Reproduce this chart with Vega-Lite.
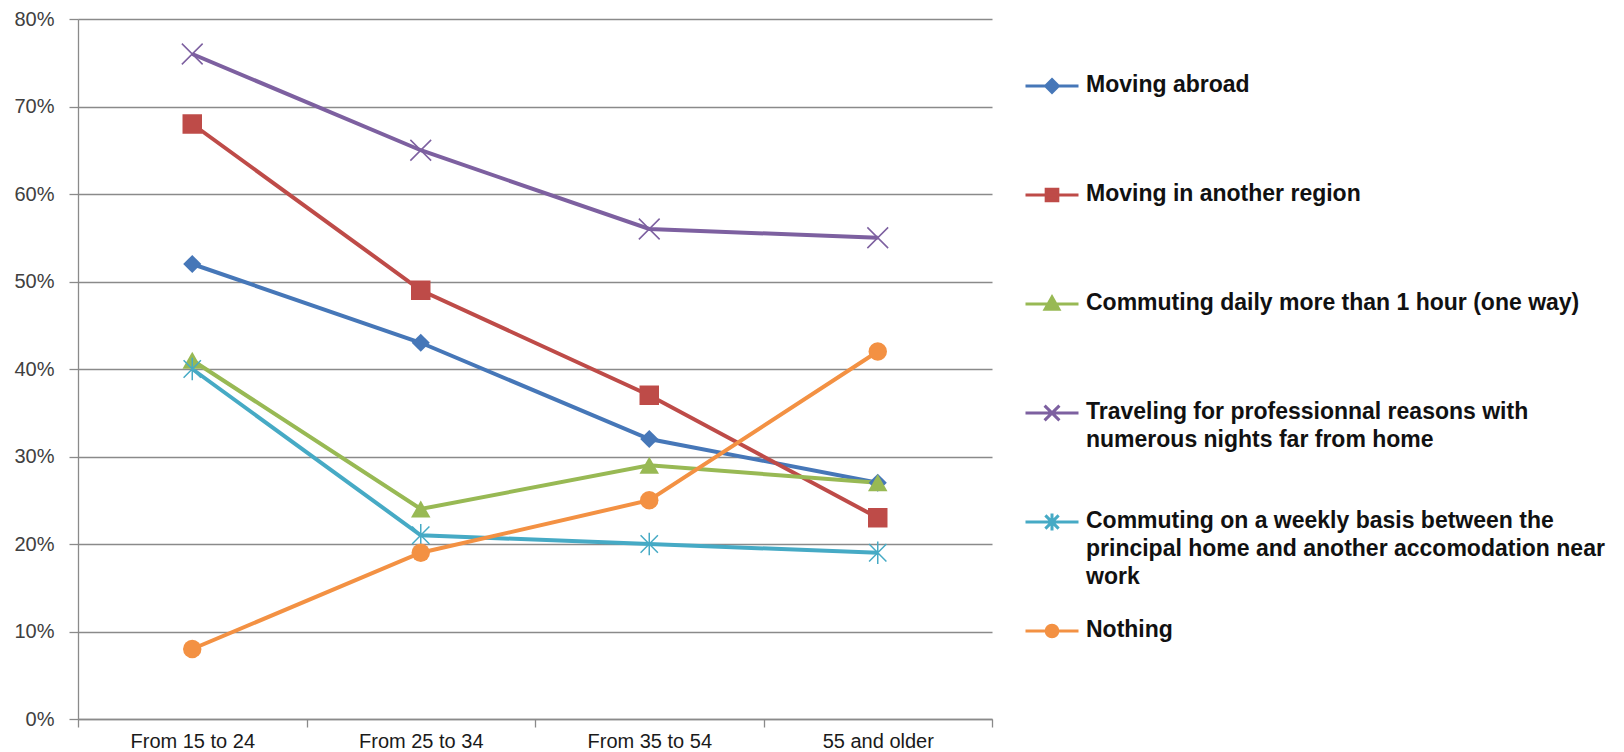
{
  "$schema": "https://vega.github.io/schema/vega-lite/v6.json",
  "width": 914,
  "height": 700,
  "autosize": {"type": "none"},
  "padding": {"left": 78, "top": 19, "right": 632, "bottom": 33},
  "background": "white",
  "config": {"view": {"stroke": null}, "font": "Liberation Sans"},
  "data": {
    "values": [
      {"series": "Moving abroad", "age": "From 15 to 24", "share": 0.52},
      {"series": "Moving abroad", "age": "From 25 to 34", "share": 0.43},
      {"series": "Moving abroad", "age": "From 35 to 54", "share": 0.32},
      {"series": "Moving abroad", "age": "55 and older", "share": 0.27},
      {"series": "Moving in another region", "age": "From 15 to 24", "share": 0.68},
      {"series": "Moving in another region", "age": "From 25 to 34", "share": 0.49},
      {"series": "Moving in another region", "age": "From 35 to 54", "share": 0.37},
      {"series": "Moving in another region", "age": "55 and older", "share": 0.23},
      {"series": "Commuting daily more than 1 hour (one way)", "age": "From 15 to 24", "share": 0.41},
      {"series": "Commuting daily more than 1 hour (one way)", "age": "From 25 to 34", "share": 0.24},
      {"series": "Commuting daily more than 1 hour (one way)", "age": "From 35 to 54", "share": 0.29},
      {"series": "Commuting daily more than 1 hour (one way)", "age": "55 and older", "share": 0.27},
      {"series": "Traveling for professionnal reasons with numerous nights far from home", "age": "From 15 to 24", "share": 0.76},
      {"series": "Traveling for professionnal reasons with numerous nights far from home", "age": "From 25 to 34", "share": 0.65},
      {"series": "Traveling for professionnal reasons with numerous nights far from home", "age": "From 35 to 54", "share": 0.56},
      {"series": "Traveling for professionnal reasons with numerous nights far from home", "age": "55 and older", "share": 0.55},
      {"series": "Commuting on a weekly basis between the principal home and another accomodation near work", "age": "From 15 to 24", "share": 0.40},
      {"series": "Commuting on a weekly basis between the principal home and another accomodation near work", "age": "From 25 to 34", "share": 0.21},
      {"series": "Commuting on a weekly basis between the principal home and another accomodation near work", "age": "From 35 to 54", "share": 0.20},
      {"series": "Commuting on a weekly basis between the principal home and another accomodation near work", "age": "55 and older", "share": 0.19},
      {"series": "Nothing", "age": "From 15 to 24", "share": 0.08},
      {"series": "Nothing", "age": "From 25 to 34", "share": 0.19},
      {"series": "Nothing", "age": "From 35 to 54", "share": 0.25},
      {"series": "Nothing", "age": "55 and older", "share": 0.42}
    ]
  },
  "encoding": {
    "x": {
      "field": "age",
      "type": "nominal",
      "sort": ["From 15 to 24", "From 25 to 34", "From 35 to 54", "55 and older"],
      "scale": {"type": "band", "paddingInner": 0, "paddingOuter": 0},
      "axis": {
        "title": null,
        "labelAngle": 0,
        "tickBand": "extent",
        "tickSize": 8,
        "tickColor": "#8a8a8a",
        "tickWidth": 1.3,
        "domainColor": "#8a8a8a",
        "domainWidth": 1.3,
        "labelPadding": 4,
        "labelFontSize": 20,
        "labelColor": "#1a1a1a",
        "labelFont": "Liberation Sans",
        "grid": false
      }
    },
    "y": {
      "field": "share",
      "type": "quantitative",
      "scale": {"domain": [0, 0.8], "nice": false},
      "axis": {
        "title": null,
        "values": [0, 0.1, 0.2, 0.3, 0.4, 0.5, 0.6, 0.7, 0.8],
        "format": ".0%",
        "grid": true,
        "gridColor": "#8a8a8a",
        "gridWidth": 1.3,
        "domainColor": "#8a8a8a",
        "domainWidth": 1.3,
        "tickColor": "#8a8a8a",
        "tickWidth": 1.3,
        "tickSize": 9,
        "labelPadding": 15,
        "labelFontSize": 20,
        "labelColor": "#404040",
        "labelFont": "Liberation Sans"
      }
    },
    "color": {
      "field": "series",
      "type": "nominal",
      "scale": {
        "domain": [
          "Moving abroad",
          "Moving in another region",
          "Commuting daily more than 1 hour (one way)",
          "Traveling for professionnal reasons with numerous nights far from home",
          "Commuting on a weekly basis between the principal home and another accomodation near work",
          "Nothing"
        ],
        "range": ["#4677B8", "#BE4B48", "#98B954", "#7D60A0", "#46AAC5", "#F39143"]
      },
      "legend": {
        "title": null,
        "orient": "none",
        "legendX": 946,
        "legendY": 39,
        "direction": "vertical",
        "padding": 0,
        "gridAlign": "all",
        "symbolSize": 2809,
        "symbolStrokeWidth": 3,
        "symbolOpacity": 1,
        "labelFont": "Liberation Sans",
        "labelFontSize": 23,
        "labelFontWeight": "bold",
        "labelColor": "#111111",
        "labelLimit": 800,
        "labelOffset": 6,
        "labelBaseline": "top",
        "rowPadding": 14,
        "labelExpr": "datum.label == 'Traveling for professionnal reasons with numerous nights far from home' ? ['Traveling for professionnal reasons with', 'numerous nights far from home'] : datum.label == 'Commuting on a weekly basis between the principal home and another accomodation near work' ? ['Commuting on a weekly basis between the', 'principal home and another accomodation near', 'work'] : datum.label",
        "encode": {
          "symbols": {
            "update": {
              "shape": {"signal": "datum.value == 'Moving abroad' ? 'M-1,0H1M0,-0.24L0.24,0L0,0.24L-0.24,0Z' : datum.value == 'Moving in another region' ? 'M-1,0H1M-0.22,-0.22H0.22V0.22H-0.22Z' : datum.value == 'Commuting daily more than 1 hour (one way)' ? 'M-1,0H1M0,-0.26L0.26,0.2H-0.26Z' : datum.value == 'Nothing' ? 'M-1,0H1M0.22,0A0.22,0.22,0,1,1,-0.22,0A0.22,0.22,0,1,1,0.22,0Z' : datum.value == 'Traveling for professionnal reasons with numerous nights far from home' ? 'M-1,0H1M-0.28,-0.28L0.28,0.28M-0.28,0.28L0.28,-0.28' : 'M-1,0H1M-0.25,-0.25L0.25,0.25M-0.25,0.25L0.25,-0.25M0,-0.32V0.32'"},
              "fill": {"scale": "color", "field": "value"},
              "stroke": {"scale": "color", "field": "value"}
            }
          },
          "labels": {
            "update": {
              "dy": {"value": -12},
              "lineHeight": {"value": 28}
            }
          }
        }
      }
    }
  },
  "layer": [
    {"mark": {"type": "line", "strokeWidth": 4}},
    {
      "transform": [{"filter": "datum.series == 'Moving abroad'"}],
      "mark": {"type": "point", "shape": "diamond", "filled": true, "size": 330, "opacity": 1}
    },
    {
      "transform": [{"filter": "datum.series == 'Moving in another region'"}],
      "mark": {"type": "point", "shape": "square", "filled": true, "size": 380, "opacity": 1}
    },
    {
      "transform": [{"filter": "datum.series == 'Commuting daily more than 1 hour (one way)'"}],
      "mark": {"type": "point", "shape": "triangle-up", "filled": true, "size": 380, "opacity": 1}
    },
    {
      "transform": [{"filter": "datum.series == 'Traveling for professionnal reasons with numerous nights far from home'"}],
      "mark": {"type": "point", "shape": "M-1.2,-1.2L1.2,1.2M-1.2,1.2L1.2,-1.2", "filled": false, "size": 300, "strokeWidth": 1.5, "opacity": 1}
    },
    {
      "transform": [{"filter": "datum.series == 'Commuting on a weekly basis between the principal home and another accomodation near work'"}],
      "mark": {"type": "point", "shape": "M-1,-1L1,1M-1,1L1,-1M0,-1.3V1.3", "filled": false, "size": 300, "strokeWidth": 1.5, "opacity": 1}
    },
    {
      "transform": [{"filter": "datum.series == 'Nothing'"}],
      "mark": {"type": "point", "shape": "circle", "filled": true, "size": 340, "opacity": 1}
    }
  ]
}
